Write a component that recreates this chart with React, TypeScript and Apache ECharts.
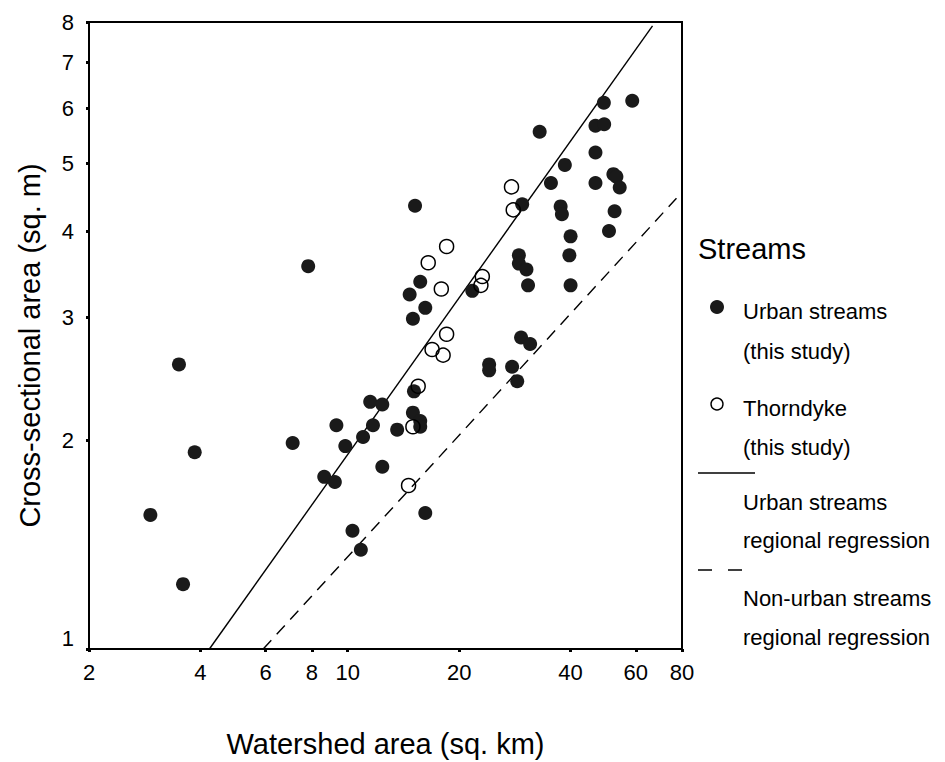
import React, { useEffect, useRef } from "react";
import * as echarts from "echarts";

// ---- data ----
const urbanArea = [
  2.93, 3.5, 3.59, 3.86, 7.1, 7.82, 8.64, 9.23, 9.32, 9.85, 10.3, 10.85, 11.0, 11.5, 11.7,
  12.4, 12.4, 13.6, 14.7, 15.0, 15.2, 15.1, 15.0, 15.7, 15.7, 15.7, 16.2, 16.2, 21.7, 24.1,
  24.1, 27.8, 28.7, 29.0, 29.0, 29.4, 29.6, 30.4, 30.7, 31.1, 33.0, 35.4, 38.6, 37.6, 37.9,
  39.7, 40.0, 40.0, 46.7, 49.3, 49.2, 46.7, 46.7, 52.2, 53.2, 54.3, 52.6, 50.8, 58.7,
];
const urbanXsec = [
  1.56, 2.57, 1.24, 1.92, 1.98, 3.56, 1.77, 1.74, 2.1, 1.96, 1.48, 1.39, 2.02, 2.27, 2.1,
  1.83, 2.25, 2.07, 3.24, 2.99, 4.35, 2.35, 2.19, 3.38, 2.13, 2.09, 3.1, 1.57, 3.28, 2.57,
  2.52, 2.55, 2.43, 3.69, 3.59, 2.81, 4.37, 3.52, 3.34, 2.75, 5.56, 4.69, 4.98, 4.34, 4.23,
  3.69, 3.93, 3.34, 5.67, 5.7, 6.12, 5.19, 4.69, 4.83, 4.79, 4.62, 4.27, 4.0, 6.16,
];
const thorndykeArea = [27.7, 28.0, 18.5, 16.5, 23.1, 22.9, 17.9, 18.5, 16.9, 18.1, 15.5, 15.0, 14.6];
const thorndykeXsec = [4.63, 4.29, 3.8, 3.6, 3.44, 3.34, 3.3, 2.84, 2.7, 2.65, 2.39, 2.09, 1.72];

const urbanRegArea = [4.23, 66.6];
const urbanRegXsec = [1.0, 7.9];
const nonUrbanRegArea = [5.91, 77.3];
const nonUrbanRegXsec = [1.0, 4.46];

const xTicks = [2, 4, 6, 8, 10, 20, 40, 60, 80];
const yTicks = [1, 2, 3, 4, 5, 6, 7, 8];

const xTitle = "Watershed area (sq. km)";
const yTitle = "Cross-sectional area (sq. m)";
const legendTitle = "Streams";
const legendLines = [
  ["Urban streams", "(this study)"],
  ["Thorndyke", "(this study)"],
  ["Urban streams", "regional regression"],
  ["Non-urban streams", "regional regression"],
];

const FONT = '"Liberation Sans", Arial, Helvetica, sans-serif';
const lg = Math.log10;
const pts = (xs: number[], ys: number[]) => xs.map((x, i) => [lg(x), lg(ys[i])]);

export default function App() {
  const ref = useRef<HTMLDivElement>(null);
  useEffect(() => {
    if (!ref.current) return;
    const chart = echarts.init(ref.current, null, { renderer: "svg" });
    const txt = (s: string, x: number, y: number, size: number) => ({
      type: "text",
      x,
      y,
      silent: true,
      style: { text: s, fontSize: size, fontFamily: FONT, fill: "#000", align: "left", verticalAlign: "middle" },
    });
    const option: any = {
      animation: false,
      backgroundColor: "#fff",
      grid: {
        left: 89,
        top: 22,
        width: 593,
        height: 627,
        show: true,
        borderColor: "#000",
        borderWidth: 2,
        backgroundColor: "transparent",
        containLabel: false,
        outerBoundsMode: "none",
      },
      xAxis: {
        type: "value",
        min: lg(2),
        max: lg(80),
        splitLine: { show: false },
        axisLine: { show: true, lineStyle: { color: "#000", width: 2 } },
        axisTick: { show: true, length: 3, lineStyle: { color: "#000", width: 3 }, customValues: xTicks.map(lg) },
        axisLabel: {
          customValues: xTicks.map(lg),
          formatter: (v: number) => String(Math.round(Math.pow(10, v))),
          fontSize: 22,
          fontFamily: FONT,
          color: "#000",
          margin: 12,
        },
        name: xTitle,
        nameLocation: "middle",
        nameGap: 80,
        nameTextStyle: { fontSize: 29, fontFamily: FONT, color: "#000" },
      },
      yAxis: {
        type: "value",
        min: 0,
        max: lg(8),
        splitLine: { show: false },
        axisLine: { show: true, lineStyle: { color: "#000", width: 2 } },
        axisTick: { show: true, length: 3, lineStyle: { color: "#000", width: 3 }, customValues: yTicks.map(lg) },
        axisLabel: {
          customValues: yTicks.map(lg),
          formatter: (v: number) => {
            const n = Math.round(Math.pow(10, v));
            return n === 1 ? "{low|1}" : String(n);
          },
          rich: { low: { fontSize: 22, fontFamily: FONT, color: "#000", padding: [0, 0, 22, 0] } },
          fontSize: 22,
          fontFamily: FONT,
          color: "#000",
          margin: 15,
        },
        name: yTitle,
        nameLocation: "middle",
        nameGap: 45,
        nameTextStyle: { fontSize: 29, fontFamily: FONT, color: "#000", padding: [0, 20, 0, 0] },
      },
      series: [
        {
          name: "Urban streams regional regression",
          type: "line",
          data: pts(urbanRegArea, urbanRegXsec),
          showSymbol: false,
          lineStyle: { color: "#000", width: 1.4, type: "solid" },
          z: 1,
        },
        {
          name: "Non-urban streams regional regression",
          type: "line",
          data: pts(nonUrbanRegArea, nonUrbanRegXsec),
          showSymbol: false,
          lineStyle: { color: "#000", width: 1.4, type: [12, 8] },
          z: 1,
        },
        {
          name: "Thorndyke (this study)",
          type: "scatter",
          data: pts(thorndykeArea, thorndykeXsec),
          symbol: "circle",
          symbolSize: 14,
          itemStyle: { color: "rgba(255,255,255,0)", borderColor: "#000", borderWidth: 1.5, opacity: 1 },
          z: 3,
        },
        {
          name: "Urban streams (this study)",
          type: "scatter",
          data: pts(urbanArea, urbanXsec),
          symbol: "circle",
          symbolSize: 14,
          itemStyle: { color: "#1a1a1a", opacity: 1 },
          z: 2,
        },
      ],
      graphic: [
        txt(legendTitle, 698, 249, 29),
        { type: "circle", silent: true, shape: { cx: 717, cy: 307, r: 7 }, style: { fill: "#1a1a1a" } },
        txt(legendLines[0][0], 743, 311, 22),
        txt(legendLines[0][1], 743, 351, 22),
        { type: "circle", silent: true, shape: { cx: 717, cy: 404, r: 6 }, style: { fill: "#fff", stroke: "#000", lineWidth: 1.4 } },
        txt(legendLines[1][0], 743, 408, 22),
        txt(legendLines[1][1], 743, 447, 22),
        { type: "line", silent: true, shape: { x1: 698, y1: 473, x2: 755, y2: 473 }, style: { stroke: "#000", lineWidth: 1.4 } },
        txt(legendLines[2][0], 743, 502, 22),
        txt(legendLines[2][1], 743, 540, 22),
        { type: "line", silent: true, shape: { x1: 698, y1: 570, x2: 745, y2: 570 }, style: { stroke: "#000", lineWidth: 1.4, lineDash: [14, 16] } },
        txt(legendLines[3][0], 743, 598, 22),
        txt(legendLines[3][1], 743, 637, 22),
      ],
    };
    chart.setOption(option);
    return () => chart.dispose();
  }, []);
  return (
    <div
      ref={ref}
      style={{ position: "fixed", left: 0, top: 0, width: 945, height: 762, background: "#fff" }}
    />
  );
}
